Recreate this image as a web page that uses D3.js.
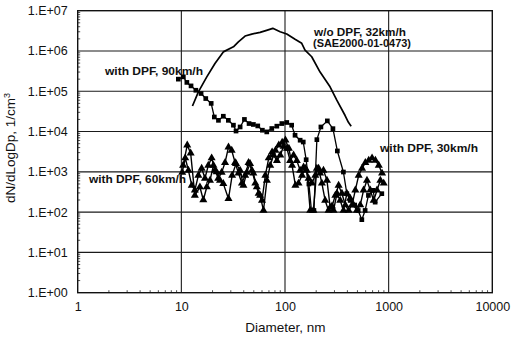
<!DOCTYPE html>
<html>
<head>
<meta charset="utf-8">
<script src="https://cdn.jsdelivr.net/npm/d3@7"></script>
<style>
  html, body { margin: 0; padding: 0; background: #fff; }
  svg { display: block; }
  text { font-family: "Liberation Sans", Arial, sans-serif; fill: #111; }
</style>
</head>
<body>
<svg id="chart" width="512" height="339"></svg>
<script>
// Particle size distributions: diameter (nm) and dN/dLogDp (1/cm3)
const woDpfDiam = [12.8, 14.6, 17.6, 21.1, 25.4, 31.8, 35.5, 41.2, 47.8, 57.5, 67.6, 76.2, 89.7, 104, 125, 145, 156, 181, 218, 272, 316, 380, 409, 435];
const woDpfConc = [4.3e4, 9.7e4, 2.28e5, 4.9e5, 9.5e5, 1.27e6, 1.69e6, 2.35e6, 2.63e6, 2.9e6, 3.3e6, 3.65e6, 3.0e6, 2.63e6, 1.95e6, 1.55e6, 1.05e6, 7.2e5, 3.0e5, 1.29e5, 6.0e4, 2.5e4, 1.7e4, 1.36e4];

const dpf90Diam = [9.35, 10.45, 11.3, 12.4, 13.8, 15.5, 17.2, 19.4, 20.8, 22.8, 25.4, 28.4, 31.8, 33.7, 36.9, 40.6, 45, 49.5, 54.6, 60.5, 66.7, 74.6, 83.4, 93.2, 104, 116, 125, 140, 150, 160, 170, 180, 190, 203, 222, 256, 290, 320, 366, 395, 425, 470, 508, 551, 593, 638, 708, 741, 859];
const dpf90Conc = [2.0e5, 2.28e5, 1.66e5, 1.36e5, 1.06e5, 8.8e4, 6.6e4, 5.0e4, 2.3e4, 1.9e4, 2.4e4, 1.9e4, 1.44e4, 1.03e4, 1.3e4, 2.0e4, 1.58e4, 1.5e4, 1.38e4, 1.08e4, 9.8e3, 1.19e4, 1.36e4, 1.58e4, 1.68e4, 1.44e4, 8.1e3, 6.1e3, 5.5e3, 2.0e3, 500, 110, 110, 6.3e3, 1.3e4, 1.84e4, 1.18e4, 3.3e3, 990, 287, 195, 150, 110, 65, 110, 260, 347, 177, 287];

const dpf60Diam = [10.4, 11.4, 12.3, 13.5, 15.1, 16.3, 17.6, 18.9, 20.4, 21.9, 23.6, 25.4, 28.5, 30.9, 33.7, 36.9, 39.7, 42.8, 46.0, 49.5, 53.4, 57.5, 62.0, 66.9, 72.0, 77.6, 83.6, 90.0, 97.0, 104.5, 112, 121, 130, 140, 151, 162, 175, 188, 203, 218, 235, 254, 273, 294, 317, 341, 367, 395, 426, 459, 494, 532, 573, 618, 665, 717, 772, 832, 896];
const dpf60Conc = [1.45e3, 4.6e3, 2.9e3, 260, 420, 200, 420, 615, 1.45e3, 990, 615, 510, 215, 820, 1.6e3, 1.09e3, 460, 970, 1.6e3, 920, 420, 260, 110, 615, 1.45e3, 2.6e3, 1.9e3, 2.6e3, 4.3e3, 3.8e3, 1.9e3, 2.6e3, 1.9e3, 1.09e3, 1.3e3, 1.09e3, 110, 110, 1.22e3, 920, 1.09e3, 615, 130, 110, 290, 195, 110, 290, 220, 150, 110, 150, 350, 615, 350, 195, 350, 615, 520];

const dpf30Diam = [10.2, 10.9, 11.7, 12.6, 13.5, 14.6, 15.7, 16.9, 18.2, 19.6, 21.1, 22.7, 24.5, 26.4, 28.5, 30.6, 33.0, 35.6, 38.4, 41.3, 44.5, 48.0, 51.7, 55.7, 60.0, 64.6, 69.7, 75.1, 80.9, 87.1, 93.9, 101, 109, 117, 126, 135, 146, 157, 169, 182, 196, 211, 227, 244, 263, 284, 306, 329, 354, 382, 411, 443, 477, 514, 554, 596, 642, 692, 745, 803, 864];
const dpf30Conc = [970, 2.2e3, 1.09e3, 460, 350, 820, 1.22e3, 690, 1.45e3, 2.2e3, 1.09e3, 690, 970, 1.7e3, 4.1e3, 3.4e3, 1.7e3, 920, 520, 820, 1.7e3, 1.09e3, 520, 290, 195, 820, 2.2e3, 3.1e3, 3.4e3, 4.6e3, 5.4e3, 6.1e3, 3.8e3, 1.45e3, 460, 520, 820, 1.22e3, 690, 520, 820, 1.22e3, 520, 195, 110, 140, 260, 460, 290, 150, 110, 150, 350, 820, 1.22e3, 1.7e3, 1.93e3, 2.2e3, 1.93e3, 1.45e3, 920];

const xTickValues = [1, 10, 100, 1000, 10000];
const xTickLabels = ["1", "10", "100", "1000", "10000"];
const yTickValues = [1, 10, 100, 1e3, 1e4, 1e5, 1e6, 1e7];
const yTickLabels = ["1.E+00", "1.E+01", "1.E+02", "1.E+03", "1.E+04", "1.E+05", "1.E+06", "1.E+07"];

const svg = d3.select("#chart");
const plotLeft = 77.7, plotRight = 492.3, plotTop = 10.7, plotBottom = 292.7;

const x = d3.scaleLog().domain([1, 10000]).range([plotLeft, plotRight]);
const y = d3.scaleLog().domain([1, 1e7]).range([plotBottom, plotTop]);

// grid lines at each decade
const grid = svg.append("g").attr("stroke", "#1a1a1a").attr("stroke-width", 1.1);
xTickValues.slice(1, -1).forEach(v => {
  grid.append("line").attr("x1", x(v)).attr("x2", x(v)).attr("y1", plotTop).attr("y2", plotBottom);
});
yTickValues.slice(1, -1).forEach(v => {
  grid.append("line").attr("x1", plotLeft).attr("x2", plotRight).attr("y1", y(v)).attr("y2", y(v));
});

// minor ticks pointing into the plot
const minor = svg.append("g").attr("stroke", "#222").attr("stroke-width", 0.8);
for (let e = 0; e < 4; e++) {
  for (let m = 2; m <= 9; m++) {
    const xv = m * Math.pow(10, e);
    minor.append("line").attr("x1", x(xv)).attr("x2", x(xv)).attr("y1", plotBottom).attr("y2", plotBottom - 2.5);
  }
}
for (let e = 0; e < 7; e++) {
  for (let m = 2; m <= 9; m++) {
    const yv = m * Math.pow(10, e);
    minor.append("line").attr("x1", plotLeft).attr("x2", plotLeft + 2.5).attr("y1", y(yv)).attr("y2", y(yv));
  }
}

// plot frame
svg.append("rect").attr("x", plotLeft).attr("y", plotTop)
  .attr("width", plotRight - plotLeft).attr("height", plotBottom - plotTop)
  .attr("fill", "none").attr("stroke", "#111").attr("stroke-width", 1.4);

// axis labels through d3 axes
const xAxis = d3.axisBottom(x).tickValues(xTickValues).tickFormat((d, i) => xTickLabels[i]).tickSize(0).tickPadding(9);
const gx = svg.append("g").attr("transform", `translate(0,${plotBottom})`).call(xAxis);
gx.select(".domain").remove();
gx.selectAll("text").style("font-size", "12.5px").attr("fill", "#111").style("font-family", "'Liberation Sans', Arial, sans-serif");

const yAxis = d3.axisLeft(y).tickValues(yTickValues).tickFormat((d, i) => yTickLabels[i]).tickSize(0).tickPadding(10);
const gy = svg.append("g").attr("transform", `translate(${plotLeft},0)`).call(yAxis);
gy.select(".domain").remove();
gy.selectAll("text").style("font-size", "12.5px").attr("fill", "#111").style("font-family", "'Liberation Sans', Arial, sans-serif");

svg.append("text").attr("x", (plotLeft + plotRight) / 2 + 0.3).attr("y", 332)
  .attr("text-anchor", "middle").style("font-size", "13.5px").text("Diameter, nm");

const yTitle = svg.append("text").attr("transform", "translate(15,148) rotate(-90)")
  .attr("text-anchor", "middle").style("font-size", "13.5px");
yTitle.append("tspan").text("dN/dLogDp, 1/cm");
yTitle.append("tspan").attr("dy", -5).style("font-size", "9px").text("3");

// series
const line = d3.line().x(d => x(d[0])).y(d => y(d[1]));
const zipped = (a, b) => a.map((v, i) => [v, b[i]]);

function drawSeries(diam, conc, symbolType, size, width) {
  const pts = zipped(diam, conc);
  svg.append("path").datum(pts).attr("d", line).attr("fill", "none")
    .attr("stroke", "#000").attr("stroke-width", width).attr("stroke-linejoin", "round");
  if (symbolType) {
    svg.append("g").selectAll("path").data(pts).join("path")
      .attr("transform", d => `translate(${x(d[0])},${y(d[1])})`)
      .attr("d", d3.symbol().type(symbolType).size(size))
      .attr("fill", "#000");
  }
}

drawSeries(dpf60Diam, dpf60Conc, d3.symbolTriangle, 28, 1.4);
drawSeries(dpf30Diam, dpf30Conc, d3.symbolTriangle, 28, 1.4);
drawSeries(dpf90Diam, dpf90Conc, d3.symbolSquare, 22, 1.3);
drawSeries(woDpfDiam, woDpfConc, null, 0, 1.7);

// series annotations
function note(text, xPos, yPos, len) {
  svg.append("text").attr("x", xPos).attr("y", yPos).attr("textLength", len).attr("lengthAdjust", "spacingAndGlyphs")
    .style("font-size", "10.5px").style("font-weight", "bold").text(text);
}
note("w/o DPF, 32km/h", 314, 35.5, 92);
note("(SAE2000-01-0473)", 313, 46.5, 98);
note("with DPF, 90km/h", 105, 74.5, 98);
note("with DPF, 60km/h", 89, 182.5, 97);
note("with DPF, 30km/h", 380, 151.5, 98);
</script>
</body>
</html>
